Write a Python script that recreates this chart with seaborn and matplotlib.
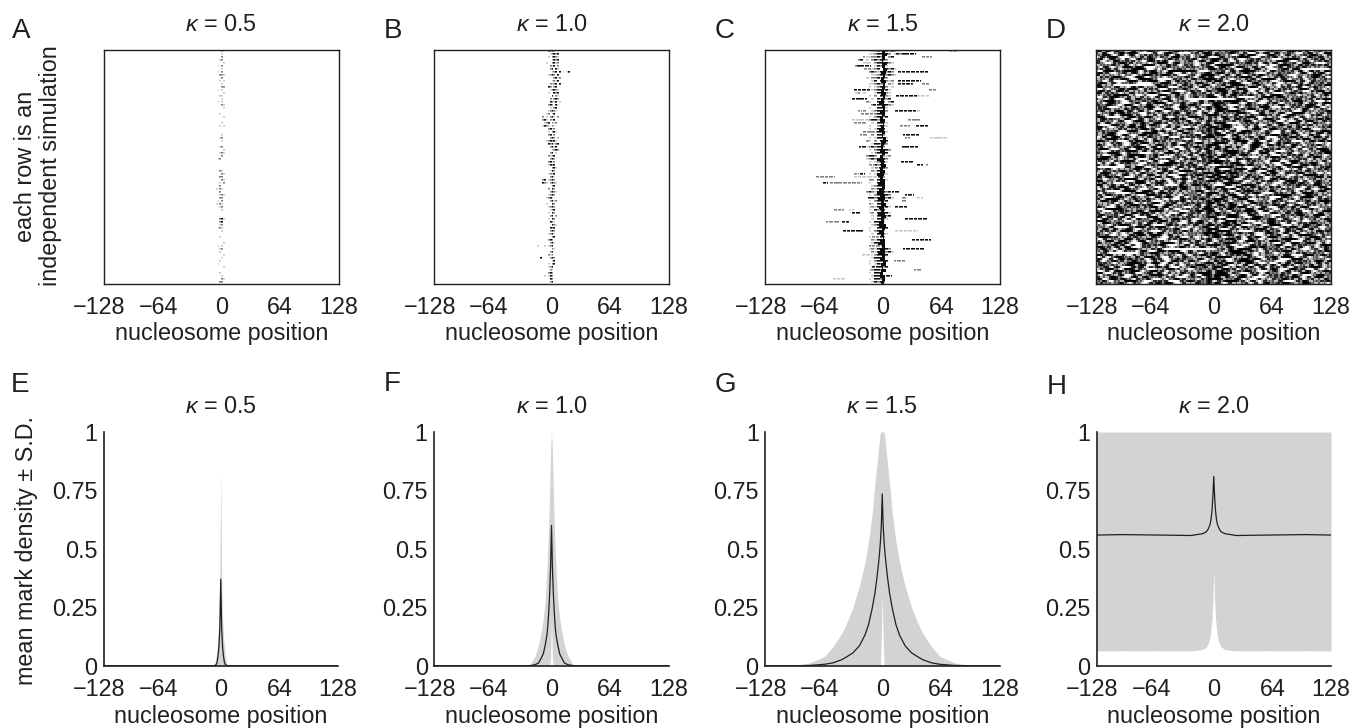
import numpy as np
import matplotlib
matplotlib.use("Agg")
import matplotlib.pyplot as plt
from matplotlib.transforms import ScaledTranslation
import seaborn as sns

TICKS = [-128, -64, 0, 64, 128]
TICK_LABELS = ["\u2212128", "\u221264", "0", "64", "128"]
Y_TICKS = [0, 0.25, 0.5, 0.75, 1]
Y_LABELS = ["0", "0.25", "0.5", "0.75", "1"]
KAPPAS = ["0.5", "1.0", "1.5", "2.0"]

# rasters are estimated by eye from the figure, the speckle can't be read cell for cell
# . empty, : pale, + grey, # dark
A_START, A_STEP = -8, 2
A_ROWS = [
    "....+:", "....:", "....+", "...:+", ".....:", "..:.+", "....:", "..:.+", "...++:", "....+",
    "...:.:", "....:", "....++", "..:.:", ".....:", "...::", "....:", "..:.:", "....+:", ".....:",
    "", "...:", ".....:", "", "....:", "...:.:", "", "", "....:", "...:+",
    "....:", "", "...:+", ".....:", "...:+:", "....+", "..:+", "", "", "",
    "...+:", "....+:", "...++", "....+:", "...:.+", "..:+", ".:.+:", "...+", "...:+:", "...++",
    "..:.+", ".:.+:", "...:+", "....:", "", "", "...+#:", "...+#", "...:+", "..:+:",
    "....:", "", "...:", "", ".....:", "..:.:", "...:+", "...:", ".....:", "....:",
    "...:", "..:", ".....:", "", "...:", "....:", "....+:", "...++",
]

B_START, B_STEP = -32, 2
B_ROWS = [
    "..............#+#+.:", "...............:+#+#", "..............:.+#+:", "................:#+#", ".............:..+#:+", "...............+:#.+",
    "...............+#.#:", "................:+#.#.:.:#", "..............:+#+.#", ".................+#:+", "................:+:#", "...............+:+#.#",
    "..............#+.+#", "...............:+#+:", "..............:..#+#", "................#.+:", "...............+.+#+", "...............#+:#.:",
    "..............+#+.#:", "...............:.+#", "..............:+#+:", ".............:+.:#", "...........+.:.+#:.+", "...........+#:.+:#",
    "............:+#.+:+", "...........:#+:.+:.", "..............+#:+", "..............:.+#:", "..............+#.+", "...............+#+.:",
    ".............:+#+#:.", "..............#+#:+#", "...............+#:#", "................:+#+", "...............+#.:", "..............+:+#",
    "...............+#+", "..............+#:+", "..............:#+#", "................+#:", "...............:#+", "..............:+:#",
    "...............+#:", "...........+#.:+#+", "...........#+:.+#+:", "................+#", "..............+.#+", "...............+#+:",
    "..............:+#+", ".............:+#:", "...............+#:+", ".............:..#+", "..............:+#+", "...............:+#",
    "..............:.#+", "...............+#.+", "..............:.#+", "...............#+:", "................#+:", "...............#+#",
    "...............+#+", "..............:+#:", "................+#", "..............+#+", "...............+#:", "........:...:.:+#",
    "................+:", "...............+#", "..............+:+", "..........#....+#+", "................:#", "..............:.+#",
    "..............:+#", "...............+:", "..............+#+", "............:.:#+", "...............#+", "...............+#",
]

C_START, C_STEP = -45, 3
C_ROWS = [
    "...........++#+##+#+:.", "..........::+##+#+.:#+", ".........::++#+#.+#", "......+#.:.+#+##+.", "........:::.+##+#+:", ".....+#+#++.:#+#:.",
    "..........::+#.##+#:", "..........+#+:##+#+.", "...........::+##+#+:", ".........:.++#:#+.", "...........:#.##+:+", "..........::+#+#.+:",
    "..........:.:+##+.:", "...........:+##+#:", ".....:+.:...:##++:", "..........:.+.##+:", "...........:.#+#+#", ".........+:..##+.+#",
    "...........+:##+#+:", "..........:..##+:", "........+..:+#+#+", "..........::+##:", "..........:.+##+#", "......:+.:+##+#+",
    "...........:.##+:", "..........:..+#+:", "..........:.:#+#.", "...........:+##+:", "...........+.##+", "..........:.:##.:",
    ".........+:.+.#+#", "...........:##+#+", ".........:+#+##+", "..........:.+##+#+", "...........#+##+#", ".........+##+.#+:+",
    ".........:+#+:##+", "..........:.:+##:", "..........+##+#", "...........:.+##+", "...........+:##+", "..........:.:+#+:",
    "...........:+##+", "..........++.##+:", "..........:..##:", "...........:+##+.", "...........+:###", ".........+#+:###+#",
    "..........:.+####+", "...........:+###+#:", "..........:.+##+#", "..........+:.##+", "..........:+:##+#:", "..........:.#+##",
    "..........:+.##+#:", "...........:.###+#", "...........:.##+:", "..........:.###:", "...........:+##+", "..........:..##+#",
    "..........:.+##:", "...........:.##+:", "..........:.:.#+", "...........+:##", "...........:###:", "..........+:##+#",
    "..........:+:##+#+", "...........+:#+#+#:", "..........:.+##+#", "...........:##+:", "..........:.+##+#", "..........:.:#+#",
    "...........:+##+#", "..........:+##+:", "..........:.##:", "...........:##+", "..........:.##+", "...........:#+#+",
]

# the dark core of panel C: centre and half width of the core in each row
C_CORE_POS = [1, 2, 1, 0, 2, 1, 3, 1, 2, 0, 1, 2, 1, 0, 1, 2, 0, -1, 1, 2, 0, 1, -1, 0, 1, 0, -1, 1, 0, 2,
              1, 0, -1, 0, 1, -1, -2, 0, 1, -1, 0, -2, -1, 0, -1, 1, -1, -2, 0, -1, 0, 1, -1, 0, -1, 1, 0, -1, 0, 1,
              -1, 0, 1, 0, -1, 1, 0, -1, 1, 0, 2, 1, 0, 1, -1, 0, 1, 0]
C_CORE_HALF = [2, 3, 2, 1, 3, 2, 2, 3, 1, 2, 3, 1, 2, 2, 3, 1, 2, 3, 2, 1, 3, 2, 2, 3, 1, 2, 3, 2, 1, 2,
               3, 2, 1, 3, 2, 2, 4, 2, 3, 2, 3, 4, 2, 3, 4, 2, 3, 4, 3, 4, 2, 3, 3, 2, 4, 3, 2, 3, 4, 2,
               3, 2, 1, 3, 4, 2, 3, 4, 2, 3, 2, 3, 1, 3, 2, 3, 2, 2]

# row, first position, last position, level of the long streaks of panel C
C_ROW = [0, 1, 2, 2, 5, 6, 7, 7, 10, 11, 11, 13, 13, 15, 15, 16, 18, 20, 20, 20, 21, 23, 23, 24, 25, 25, 27,
         28, 28, 29, 29, 32, 32, 34, 37, 38, 38, 38, 39, 39, 41, 41, 42, 42, 42, 44, 44, 47, 48, 49, 49, 49,
         50, 52, 53, 53, 54, 56, 57, 57, 60, 60, 62, 63, 65, 66, 68, 70, 72, 73, 75, 76]
C_FROM = [73, 21, -21, 43, -28, -20, 17, 42, 17, 17, 43, -31, 51, 15, 38, -33, -10, -27, 14, 38, -23, -33, 28,
          -31, 19, 37, -21, -25, 22, 24, 52, -26, 21, -13, 20, -14, 38, 47, -4, -8, -29, -31, -24, -72, -31, -65,
          -57, 10, 24, 21, 38, -16, 21, 14, -53, -37, -33, 25, -62, -44, 14, -43, -11, 32, -11, 22, -22, 12, -11,
          34, 0, -54]
C_TO = [81, 37, -19, 54, -12, -12, 42, 50, 42, 33, 51, -14, 58, 43, 51, -17, -4, -22, 40, 42, -9, -17, 41, -17,
        30, 50, -7, -17, 40, 30, 71, -17, 39, -8, 34, -8, 44, 50, -2, -4, -19, -26, -5, -52, -13, -59, -22, 19,
        34, 26, 44, -9, 26, 27, -42, -31, -24, 48, -47, -35, 39, -21, -4, 53, -2, 46, -10, 26, -4, 42, 10, -40]
C_LEVEL = "+#++#+####+#+#:##+#:+:+++#++#+:##:#+#+#+#+:+:#+##+:#+#+:##+#:#+#+#:+#+#:"

D_ROWS = [
    "e73a1c8f40bd29e6137c9e05a8fb3164",
    "9c2f7e0187d00b3e6af4c19e72d05c8f",
    "3bf014ce9a7d62f81cb7f036e49a1d72",
    "71e8c3af05d96e2bf7182dca03fe65b9",
    "d06fb2917e3ca84f096d7b1ce358fa02",
    "2ae9c47f13b0d86c7fe2a9041fd3b76e",
    "b7315fe08c2e94a7db60f3c8179e0000",
    "0fdbfe3791fffe02ac73fe91d6b38ecf",
    "c948a17edfb02c7fa38e16f4bd0297e5",
    "36fd07c2914ae8f70d5bf9c26ea317d8",
    "a1807e6fc39db24ef8713ad60bf9c754",
    "7ce2b4015f8ad3e996fe07a4c12d8eb3",
    "f5391dca7e06b8f253ec9f1a46d70ba8",
    "08af7e36c1b5d2097e8fc04e9b63f1a2",
    "e6d1394fa07c8eb26f3dc8e5017ba49f",
    "4b7fc8203e9d16af0e7b5d31fca8962e",
    "91c0e7ad2f8b0000000f94e6ab372cdf",
    "2fe8356bd1c940e7b7fec1832d9fa604",
    "d7a1f09e46c3be81f6027adc9e5b3f18",
    "6c049ebf1a87d32ef91c5a7e0436bdc2",
    "b93e71c8f05ad6247dfe81b3c960ea57",
    "15ef6a0d29bc7438e6afd0729e1fc8b3",
    "f8027dbe4c193fa6cf5b7e08a3d1c496",
    "3da9e1c50f7b82e6479ed31fb08c6af7",
    "c7150ae9f62d3b8cfe016d94bc7e23a8",
    "80fb3ce7a194d65e2fc8b3071ea6dc95",
    "e24d96fb08317caefd9027c3eb56f814",
    "5ab07e13dc8f296ec471fa8d06392ebf",
    "97e3c1f6a0d25b8f7e3c914df7a60ec2",
    "1cf8a24e97036dbfa82e5cf01b7d93e6",
    "fa6037d1ec95b8246d9fe3871ac04f7b",
    "48dc1ef92a706be5ff19c7e43bd62a08",
    "b1296fe38c40d7ae73ce0fa296b8d514",
    "7e05c3b9fa1862dcf7248e1db9630cfe",
    "d3f86a0147ec9b2e85fdb07c3ae1496f",
    "20bc7fe5d91a38f6cf73e92604db8ea1",
    "fe914c072ba8de36e10f7ac8d94b6325",
    "6a37f8d1c0e295b7fd8c36a1f07e249c",
    "c9e0a42b7fd36e18096fbd4c83e1f7a5",
    "0000e7c14a8f36d27fe902c6b8dfa137",
    "8d6fb3190ec7fa24f7db1e07c96d3a52",
    "3f12c8ea79d056bf7efd4a39e1d7cb08",
    "e7ba0694f3c18d2fbf7c76e0ba2d95f3",
    "a14dfe37086bc9e2f7e0d3a1ef6c8b24",
    "5c80b7e2fa1396d487fe29c5037bd1ea",
    "f2e6391cd8074fba03c9fe8a12d76be5",
    "1b79ea05c6f3d28ecf71b4e9a6d0382f",
    "d803fc7e19a64be2970efd53c8b1a67c",
    "67ace41fb390d58e2cf8610b7fea3d94",
    "b05e9d28f7c316ac8f3ed9b407a1fe62",
    "3ef1a76c04db892ef7153ca8ed06b97f",
    "92c4f08be3716dafb2e90f6cd1a8374e",
    "e81d6b37cf2a059ed6f7c4381eb9f02a",
    "07fe92a4d8c16b3f19ea7cf50d362e8b",
    "c5369efb1207ad8ef68d3b01e9cfa472",
    "7ab1f0dc486e392d75fc1e8a06b7d3f9",
    "1e8c63a9f27db054ee096fd7c3a18b2f",
    "fd2a0957be6c31e8c3fa8127d6e9054b",
    "486fe1bc03d9a72fb7de05c3f8127ae6",
    "a9c037e6fd1284bc6f31ea9d0b7cf582",
    "36e7f1a80cb5d92e7fc8036eb1d9a4f7",
    "d1084fce79362abfe9d75c0fa38e16b2",
    "7fb26e93a0dc1845f0ae3bc7e9612fd8",
    "0ca9f35e81b7d46e2bf61d08a7fc39e5",
    "e53dc07a9fe61b28d7f4a2c9063ebf18",
    "92f7186dbc04e3aff5820ed97c1b6a3f",
    "bd0cfe93700000002ce7f91b6d3a058e",
    "4e61a8f07dfc39b2a8ff5d0cb7e2916f",
    "f7930cd2e5a186fbd16ef84a93c07ebd",
    "18bea73f60c9d24e7fc93a0de7f1628b",
    "c2f65ea1987b3d04ee17fc2a80db69f3",
    "6d097fb3e1c8a25f3be67d0419cfa8e6",
    "ae381dc6f7025eb9f84e9c71b30d6fe2",
    "37d1f9a04bec82d5cfb16a39e07dc184",
    "f06cb82e7193adfe7f340d8ea6c1f925",
    "8b4e0d97fa261c3eff8bc7136e9d02fa",
    "e1f7a35c08bd946ff95e20c8d7b3164e",
    "5c29fe81b6037dae37fd8e1a9c06f2b7",
]

# one more row goes in after every second row of D_ROWS
D_EXTRA = [
    "5f0e38b6d71ca29ef483be07d1c96fa3",
    "c27ad90f6e14b8f3e70c5da93f82b16e",
    "8e13f7c04ba96d2f1e8fa7305cd6e94b",
    "f60b9e27d3c18a5e7cb2f4069ad1e378",
    "29d7c1fe80364ebfd90a6e3fc7158b2d",
    "e4800000f6b1d93c2e7fa5d084c3b96f",
    "7b1ec9326fa05d8ebf34e18c7a2d06f9",
    "0dfa64c8e39b172fc6d8013fbe95a724",
    "a3e8170dfc2b96e5fd7c3a06e14b8d9f",
    "6f29db4e07c3a18e7f05be9d26c8f134",
    "d1c7f3098eb56a2fe91c4d7b30fa86e2",
    "3a8e0fc6b2d9714ed6b2f8a5c1073e9d",
    "f4167de2a39c08b7efc0639ad4e7125b",
    "9be02a7fc5d1e836f1a7d92e06bc48f3",
    "27f5ce3196da08b4cf3e8b710da6f95c",
    "e86c1b04fa73d92fe2490fc7ba3d16e8",
    "40dafe7329c6b18e97fd1c6e80b2a53f",
    "bf3179e5c02d8a6f3ec8a04df7169be2",
    "18c6ea0d47fb392efb7e2c91063daf85",
    "d7092fbc6e18a3f4e05fc7b8dc23196e",
    "6ea3c58f1207dbe9f16d3a8ec9047fb2",
    "f29b07e4dc3186afd8eb0537a1fc62e9",
    "31efc68a05b7d29e7c0f4ed3b8961a7c",
    "8d4017fb3ec92a6fe5a1b7c06d38fe92",
    "c7fa2e9d1083b6f5fd27e0943cb1a86e",
    "5219bf6e07cad38e3cf8d16af70e9b24",
    "a06ed3c7f9281bef8a36fe1c52d7049f",
    "e3b7180fc4a96d2fc1fd07ea3689b5c2",
    "1f5ca98e72d03be64fb9e817d0c36fa9",
    "9e72f04d36bc18afe06cb3f9a1d78e45",
    "d6083be7f1c92a5df7e24c09b863fd1a",
    "47cfa1e2d906b38e1ab87ed3f5c06928",
    "fb39e06c8d17a4f2c9e05f7ab1d3862e",
    "2c0000d7e96f3a1be37fc84d09a6eb51",
    "e18f76c3b05da9e2d41bf7c6e03f92a8",
    "7ad2f9e0c3186bf5af08e3d9c7b14e62",
    "063ebf17d8a2c94e7d96fa02e1cb385f",
    "c9f41e7ab3602d8ef3a7c8056dbe19f2",
    "b52e8d06f7c193aef0c9631eb7d2fa48",
]

MARK_LEVELS = {".": 0.0, ":": 0.22, "+": 0.5, "#": 0.95}

# half of each profile, position 0 first: the curves are mirrored around 0
E_POS = [0, 1, 2, 3, 4, 5, 7, 128]
E_MEAN = [0.37, 0.16, 0.08, 0.04, 0.015, 0.005, 0, 0]
E_UPPER = [0.84, 0.38, 0.2, 0.13, 0.08, 0.04, 0, 0]
E_LOWER = [0, 0, 0, 0, 0, 0, 0, 0]

F_POS = [0, 1, 2, 3, 4, 5, 7, 9, 11.5, 14, 18, 24, 128]
F_MEAN = [0.6, 0.42, 0.31, 0.23, 0.17, 0.13, 0.085, 0.05, 0.03, 0.012, 0.004, 0, 0]
F_UPPER = [1, 0.92, 0.75, 0.6, 0.5, 0.41, 0.27, 0.2, 0.14, 0.09, 0.04, 0, 0]
F_LOWER = [0.2, 0.03, 0, 0, 0, 0, 0, 0, 0, 0, 0, 0, 0]

G_POS = [0, 1, 2, 3, 4, 6, 8, 11, 15, 19, 25, 32, 38, 44, 54, 63, 79, 96, 128]
G_MEAN = [0.735, 0.6, 0.53, 0.48, 0.44, 0.37, 0.31, 0.245, 0.175, 0.13, 0.085, 0.055, 0.04, 0.026, 0.012, 0.006, 0.001, 0, 0]
G_UPPER = [1, 1, 1, 0.97, 0.93, 0.85, 0.78, 0.65, 0.53, 0.44, 0.34, 0.25, 0.19, 0.14, 0.08, 0.04, 0.012, 0, 0]
G_LOWER = [0.3, 0.12, 0, 0, 0, 0, 0, 0, 0, 0, 0, 0, 0, 0, 0, 0, 0, 0, 0]

H_POS = [0, 1, 2, 3, 4, 6, 8, 12, 20, 25, 40, 60, 80, 100, 128]
H_MEAN = [0.81, 0.72, 0.66, 0.625, 0.605, 0.585, 0.573, 0.565, 0.56, 0.557, 0.558, 0.559, 0.56, 0.561, 0.559]
H_UPPER = [1, 1, 1, 1, 1, 1, 1, 1, 1, 1, 1, 1, 1, 1, 1]
H_LOWER = [0.41, 0.27, 0.2, 0.16, 0.125, 0.095, 0.08, 0.07, 0.065, 0.064, 0.063, 0.064, 0.063, 0.064, 0.063]

INK = "#231f20"
BAND = "#d1d3d4"
W, H = 1354, 728
FS = 16.8

sns.set_theme(style="white")
plt.rcParams["font.family"] = ["Liberation Sans", "DejaVu Sans"]
plt.rcParams["mathtext.fontset"] = "custom"
plt.rcParams["mathtext.it"] = "Liberation Sans:italic"
plt.rcParams["text.color"] = INK


def rows_to_matrix(rows, start, step):
    matrix = np.zeros((78, 256))
    for r, row in enumerate(rows):
        for c, mark in enumerate(row):
            col = start + c * step + 128
            matrix[r, col:col + step] = MARK_LEVELS[mark]
    return matrix


def thin_rows(matrix):
    # one row is 3 px on screen, the marks only fill about two of them
    out = np.zeros((matrix.shape[0] * 3, matrix.shape[1]))
    out[0::3] = matrix
    out[1::3] = matrix * 0.6
    return out


def hex_to_matrix(rows, extra):
    merged = []
    for i, row in enumerate(rows):
        merged.append(row)
        if i % 2 == 1:
            merged.append(extra[i // 2])
    bits = [[int(b) for ch in row for b in format(int(ch, 16), "04b")] for row in merged]
    bits = np.array(bits, dtype=float)
    # the printed image is soft, so neighbours in a row bleed into each other
    soft = 0.6 * bits + 0.2 * (np.roll(bits, 1, axis=1) + np.roll(bits, -1, axis=1))
    return np.repeat(soft ** 0.8, 2, axis=1)


def add_axes(left, top, right, bottom):
    return fig.add_axes([left / W, 1 - bottom / H, (right - left) / W, (bottom - top) / H])


def shift_negative_labels(ax):
    # the minus sign hangs to the left in the original labels
    offset = ScaledTranslation(-4 / 100, 0, fig.dpi_scale_trans)
    for label, tick in zip(ax.get_xticklabels(), TICKS):
        if tick < 0:
            label.set_transform(label.get_transform() + offset)


def draw_raster(box, matrix, kappa):
    ax = add_axes(*box)
    sns.heatmap(matrix, ax=ax, cmap="gray_r", vmin=0, vmax=1, cbar=False,
                xticklabels=False, yticklabels=False, rasterized=True)
    for spine in ax.spines.values():
        spine.set_visible(True)
        spine.set_linewidth(1.0)
        spine.set_color(INK)
    ax.set_xticks(np.array(TICKS) + 128)
    ax.set_xticklabels(TICK_LABELS, rotation=0, fontsize=FS, color=INK)
    ax.set_yticks([])
    ax.tick_params(axis="x", length=0, pad=9)
    shift_negative_labels(ax)
    ax.set_xlabel("nucleosome position", fontsize=FS, color=INK, labelpad=2)
    ax.set_title(r"$\kappa$ = " + kappa, fontsize=FS, color=INK, pad=14)
    return ax


def draw_profile(box, pos, mean, upper, lower, kappa):
    ax = add_axes(*box)
    x = np.concatenate([-np.array(pos[:0:-1], dtype=float), pos])
    mirror = lambda v: np.concatenate([v[:0:-1], v])
    ax.fill_between(x, mirror(lower), mirror(upper), color=BAND, lw=0)
    sns.lineplot(x=x, y=mirror(mean), ax=ax, color=INK, lw=0.9, errorbar=None)
    ax.set_xlim(-128, 128)
    ax.set_ylim(0, 1)
    sns.despine(ax=ax)
    for side in ["left", "bottom"]:
        ax.spines[side].set_linewidth(1.2)
        ax.spines[side].set_color(INK)
    ax.set_xticks(TICKS)
    ax.set_xticklabels(TICK_LABELS, fontsize=FS, color=INK)
    ax.set_yticks(Y_TICKS)
    ax.set_yticklabels(Y_LABELS, fontsize=FS, color=INK)
    ax.tick_params(axis="x", direction="in", length=2.5, width=1.2, color=INK, pad=9)
    ax.tick_params(axis="y", direction="in", length=2.5, width=1.2, color=INK, pad=4.5)
    shift_negative_labels(ax)
    ax.set_xlabel("nucleosome position", fontsize=FS, color=INK, labelpad=3)
    ax.set_title(r"$\kappa$ = " + kappa, fontsize=FS, color=INK, pad=14)
    return ax


fig = plt.figure(figsize=(W / 100, H / 100), dpi=100)

matrix_c = rows_to_matrix(C_ROWS, C_START, C_STEP)
for r, a, b, lev in zip(C_ROW, C_FROM, C_TO, C_LEVEL):
    matrix_c[r, a + 128:b + 128] = MARK_LEVELS[lev]
    matrix_c[r, a + 131:b + 128:5] = 0
matrix_c = thin_rows(matrix_c)
for r, (centre, half) in enumerate(zip(C_CORE_POS, C_CORE_HALF)):
    matrix_c[3 * r:3 * r + 3, centre + 128 - half:centre + 128 + half] = 0.95

draw_raster((103.5, 50, 339, 284), thin_rows(rows_to_matrix(A_ROWS, A_START, A_STEP)), KAPPAS[0])
draw_raster((434, 50, 669, 284), thin_rows(rows_to_matrix(B_ROWS, B_START, B_STEP)), KAPPAS[1])
draw_raster((765, 50, 1000, 284), matrix_c, KAPPAS[2])
draw_raster((1096, 50, 1331, 284), hex_to_matrix(D_ROWS, D_EXTRA), KAPPAS[3])

draw_profile((103.5, 432, 338, 665.7), E_POS, E_MEAN, E_UPPER, E_LOWER, KAPPAS[0])
draw_profile((434, 432, 669, 665.7), F_POS, F_MEAN, F_UPPER, F_LOWER, KAPPAS[1])
draw_profile((765, 432, 999.5, 665.7), G_POS, G_MEAN, G_UPPER, G_LOWER, KAPPAS[2])
draw_profile((1096.5, 432, 1331, 665.7), H_POS, H_MEAN, H_UPPER, H_LOWER, KAPPAS[3])

for letter, x, y in zip("ABCD", [12, 384, 715, 1046], [38, 38, 38, 38]):
    fig.text(x / W, 1 - y / H, letter, fontsize=20, color=INK, va="baseline")
for letter, x, y in zip("EFGH", [11, 384, 715, 1047], [392, 391, 392, 394]):
    fig.text(x / W, 1 - y / H, letter, fontsize=20, color=INK, va="baseline")

fig.text(38 / W, 1 - 166 / H, "each row is an\nindependent simulation", rotation=90,
         fontsize=FS, color=INK, ha="center", va="center", linespacing=1.12, multialignment="center")
fig.text(27 / W, 1 - 551 / H, "mean mark density \u00b1 S.D.", rotation=90,
         fontsize=FS, color=INK, ha="center", va="center")

fig.savefig("out.png", dpi=100, facecolor="white")
